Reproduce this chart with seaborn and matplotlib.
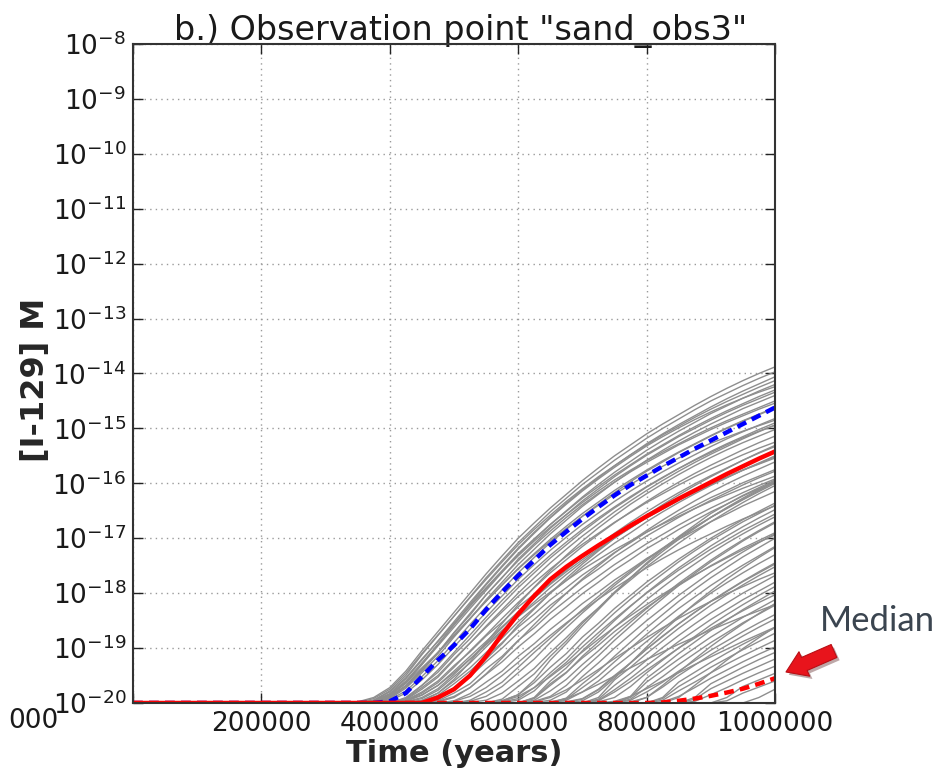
import numpy as np
import pandas as pd
import matplotlib
matplotlib.use("Agg")
import matplotlib.pyplot as plt
import matplotlib.patheffects as pe
from matplotlib.ticker import FixedLocator, NullLocator
import seaborn as sns

# Time axis (years) shared by all simulated runs
time_years = [0, 300000, 325000, 350000, 375000, 400000, 425000, 450000, 475000, 500000,
              525000, 550000, 575000, 600000, 625000, 650000, 675000, 700000, 725000, 750000,
              775000, 800000, 825000, 850000, 875000, 900000, 925000, 950000, 975000, 1000000]

# log10 of [I-129] (M) for each realisation; -20 is the reporting floor
runs_early = [
    [-20, -20, -20, -19.98, -19.9, -19.72, -19.42, -19.05, -18.7, -18.35, -18.0, -17.65, -17.32, -17.0, -16.72,
     -16.45, -16.2, -15.95, -15.72, -15.5, -15.3, -15.1, -14.92, -14.75, -14.58, -14.42, -14.27, -14.13, -14.0, -13.88],
    [-20, -20, -20, -20, -19.95, -19.78, -19.5, -19.12, -18.77, -18.42, -18.07, -17.72, -17.4, -17.08, -16.8,
     -16.52, -16.27, -16.02, -15.8, -15.58, -15.38, -15.18, -15.0, -14.83, -14.66, -14.5, -14.36, -14.22, -14.09, -13.97],
    [-20, -20, -20, -20, -19.95, -19.8, -19.54, -19.2, -18.88, -18.55, -18.22, -17.9, -17.59, -17.28, -17.01,
     -16.75, -16.51, -16.27, -16.06, -15.85, -15.66, -15.47, -15.3, -15.13, -14.97, -14.82, -14.68, -14.55, -14.42, -14.3],
    [-20, -20, -20, -20, -19.96, -19.85, -19.62, -19.3, -18.96, -18.62, -18.28, -17.95, -17.62, -17.3, -17.02,
     -16.75, -16.5, -16.25, -16.02, -15.8, -15.6, -15.4, -15.22, -15.05, -14.89, -14.73, -14.59, -14.45, -14.32, -14.2],
    [-20, -20, -20, -20, -19.97, -19.88, -19.68, -19.38, -19.08, -18.78, -18.46, -18.15, -17.85, -17.55, -17.28,
     -17.02, -16.78, -16.55, -16.34, -16.13, -15.94, -15.76, -15.59, -15.43, -15.28, -15.13, -14.99, -14.86, -14.74, -14.62],
    [-20, -20, -20, -20, -19.98, -19.92, -19.73, -19.45, -19.15, -18.8, -18.47, -18.12, -17.8, -17.48, -17.2,
     -16.92, -16.67, -16.42, -16.2, -15.98, -15.78, -15.58, -15.4, -15.23, -15.07, -14.92, -14.78, -14.64, -14.52, -14.4],
    [-20, -20, -20, -20, -19.99, -19.94, -19.78, -19.52, -19.23, -18.9, -18.57, -18.25, -17.94, -17.63, -17.35,
     -17.08, -16.84, -16.6, -16.38, -16.17, -15.97, -15.78, -15.61, -15.44, -15.29, -15.14, -15.0, -14.87, -14.75, -14.63],
    [-20, -20, -20, -20, -20, -19.96, -19.82, -19.58, -19.3, -18.98, -18.66, -18.35, -18.05, -17.75, -17.48,
     -17.22, -16.98, -16.75, -16.54, -16.33, -16.14, -15.96, -15.79, -15.63, -15.48, -15.33, -15.19, -15.06, -14.94, -14.82],
    [-20, -20, -20, -20, -20, -20, -19.92, -19.68, -19.44, -19.12, -18.83, -18.5, -18.2, -17.9, -17.63,
     -17.36, -17.12, -16.88, -16.66, -16.45, -16.26, -16.07, -15.9, -15.73, -15.57, -15.42, -15.28, -15.15, -15.02, -14.9],
    [-20, -20, -20, -20, -20, -20, -19.93, -19.72, -19.5, -19.2, -18.91, -18.62, -18.34, -18.06, -17.81,
     -17.56, -17.33, -17.11, -16.91, -16.71, -16.53, -16.35, -16.19, -16.03, -15.88, -15.74, -15.61, -15.48, -15.36, -15.25],
    [-20, -20, -20, -20, -20, -20, -19.94, -19.75, -19.53, -19.22, -18.91, -18.6, -18.3, -18.0, -17.72,
     -17.45, -17.2, -16.96, -16.74, -16.52, -16.32, -16.13, -15.95, -15.78, -15.62, -15.47, -15.33, -15.19, -15.06, -14.94],
    [-20, -20, -20, -20, -20, -20, -19.96, -19.82, -19.63, -19.35, -19.05, -18.76, -18.46, -18.17, -17.9,
     -17.63, -17.39, -17.15, -16.93, -16.72, -16.52, -16.33, -16.15, -15.98, -15.82, -15.67, -15.53, -15.39, -15.26, -15.14],
    [-20, -20, -20, -20, -20, -20, -19.96, -19.85, -19.68, -19.42, -19.15, -18.88, -18.61, -18.34, -18.09,
     -17.84, -17.61, -17.39, -17.19, -16.99, -16.81, -16.63, -16.47, -16.31, -16.16, -16.02, -15.89, -15.76, -15.64, -15.52],
    [-20, -20, -20, -20, -20, -20, -19.98, -19.9, -19.74, -19.48, -19.2, -18.92, -18.63, -18.35, -18.08,
     -17.82, -17.58, -17.34, -17.12, -16.91, -16.71, -16.52, -16.34, -16.17, -16.01, -15.86, -15.72, -15.58, -15.45, -15.33],
    [-20, -20, -20, -20, -20, -20, -19.99, -19.95, -19.82, -19.6, -19.36, -19.08, -18.82, -18.52, -18.27,
     -18.0, -17.77, -17.52, -17.3, -17.09, -16.9, -16.7, -16.52, -16.35, -16.19, -16.04, -15.9, -15.76, -15.63, -15.5],
    [-20, -20, -20, -20, -20, -20, -20, -19.97, -19.86, -19.65, -19.42, -19.15, -18.9, -18.62, -18.38,
     -18.12, -17.9, -17.67, -17.47, -17.26, -17.08, -16.89, -16.73, -16.56, -16.41, -16.26, -16.13, -15.99, -15.87, -15.75],
    [-20, -20, -20, -20, -20, -20, -20, -20, -19.93, -19.72, -19.52, -19.25, -19.0, -18.72, -18.48,
     -18.22, -18.0, -17.76, -17.56, -17.34, -17.15, -16.96, -16.79, -16.62, -16.46, -16.31, -16.17, -16.03, -15.9, -15.78],
    [-20, -20, -20, -20, -20, -20, -20, -20, -19.94, -19.75, -19.52, -19.2, -18.92, -18.58, -18.29,
     -18.0, -17.73, -17.47, -17.23, -17.0, -16.79, -16.58, -16.39, -16.21, -16.04, -15.88, -15.73, -15.58, -15.44, -15.31],
    [-20, -20, -20, -20, -20, -20, -20, -20, -19.96, -19.82, -19.65, -19.38, -19.15, -18.86, -18.63,
     -18.36, -18.13, -17.9, -17.69, -17.48, -17.29, -17.1, -16.93, -16.76, -16.6, -16.45, -16.31, -16.17, -16.04, -15.92],
    [-20, -20, -20, -20, -20, -20, -20, -20, -19.97, -19.88, -19.72, -19.48, -19.25, -18.98, -18.74,
     -18.48, -18.25, -18.01, -17.8, -17.58, -17.39, -17.19, -17.02, -16.84, -16.68, -16.52, -16.38, -16.23, -16.1, -15.97],
    [-20, -20, -20, -20, -20, -20, -20, -20, -20, -19.96, -19.83, -19.62, -19.42, -19.15, -18.92,
     -18.66, -18.43, -18.19, -17.98, -17.76, -17.57, -17.37, -17.2, -17.02, -16.86, -16.7, -16.56, -16.41, -16.28, -16.15],
    [-20, -20, -20, -20, -19.98, -19.9, -19.7, -19.4, -19.1, -18.72, -18.4, -18.03, -17.72, -17.38, -17.1,
     -16.82, -16.57, -16.32, -16.1, -15.88, -15.68, -15.49, -15.32, -15.15, -15.0, -14.85, -14.71, -14.58, -14.46, -14.34],
    [-20, -20, -20, -20, -19.97, -19.86, -19.64, -19.36, -19.08, -18.76, -18.46, -18.14, -17.85, -17.56, -17.3,
     -17.05, -16.82, -16.6, -16.4, -16.2, -16.02, -15.85, -15.69, -15.54, -15.4, -15.27, -15.16, -15.05, -14.95, -14.85],
    [-20, -20, -20, -20, -20, -20, -19.95, -19.8, -19.6, -19.32, -19.07, -18.78, -18.53, -18.25, -18.02,
     -17.77, -17.56, -17.34, -17.15, -16.95, -16.78, -16.6, -16.45, -16.29, -16.15, -16.01, -15.89, -15.76, -15.65, -15.54],
    [-20, -20, -20, -20, -20, -20, -19.98, -19.92, -19.77, -19.52, -19.27, -18.98, -18.7, -18.42, -18.16,
     -17.9, -17.66, -17.43, -17.21, -17.0, -16.81, -16.62, -16.45, -16.28, -16.12, -15.97, -15.83, -15.69, -15.56, -15.44],
    [-20, -20, -20, -19.99, -19.92, -19.75, -19.46, -19.1, -18.76, -18.42, -18.08, -17.75, -17.43, -17.12, -16.84,
     -16.58, -16.33, -16.1, -15.88, -15.68, -15.48, -15.3, -15.12, -14.96, -14.8, -14.65, -14.51, -14.38, -14.25, -14.13],
    [-20, -20, -20, -20, -19.96, -19.83, -19.56, -19.22, -18.87, -18.52, -18.17, -17.83, -17.5, -17.18, -16.89,
     -16.62, -16.36, -16.12, -15.9, -15.68, -15.48, -15.28, -15.1, -14.93, -14.77, -14.61, -14.46, -14.32, -14.19, -14.06],
    [-20, -20, -20, -20, -19.96, -19.84, -19.6, -19.27, -18.93, -18.58, -18.24, -17.92, -17.61, -17.32, -17.05,
     -16.8, -16.57, -16.35, -16.14, -15.94, -15.76, -15.59, -15.43, -15.28, -15.13, -14.99, -14.86, -14.74, -14.62, -14.5],
    [-20, -20, -20, -20, -20, -19.9, -19.7, -19.42, -19.08, -18.72, -18.37, -18.03, -17.71, -17.41, -17.13,
     -16.87, -16.62, -16.39, -16.18, -15.98, -15.79, -15.62, -15.46, -15.3, -15.16, -15.02, -14.89, -14.77, -14.65, -14.54],
    [-20, -20, -20, -20, -20, -20, -19.9, -19.68, -19.4, -19.08, -18.76, -18.44, -18.13, -17.84, -17.57,
     -17.31, -17.07, -16.84, -16.63, -16.43, -16.24, -16.06, -15.89, -15.73, -15.58, -15.44, -15.3, -15.17, -15.05, -14.94],
    [-20, -20, -20, -20, -20, -20, -19.97, -19.86, -19.68, -19.45, -19.2, -18.94, -18.68, -18.43, -18.2,
     -17.98, -17.77, -17.57, -17.39, -17.21, -17.05, -16.89, -16.74, -16.6, -16.46, -16.33, -16.21, -16.09, -15.98, -15.87],
    [-20, -20, -20, -20, -20, -20, -20, -19.96, -19.82, -19.57, -19.25, -18.9, -18.55, -18.21, -17.89,
     -17.59, -17.31, -17.05, -16.81, -16.59, -16.38, -16.19, -16.01, -15.84, -15.68, -15.53, -15.39, -15.26, -15.14, -15.02],
    [-20, -20, -20, -20, -20, -20, -20, -20, -19.98, -19.9, -19.72, -19.47, -19.18, -18.87, -18.57,
     -18.28, -18.0, -17.74, -17.5, -17.27, -17.06, -16.86, -16.67, -16.49, -16.32, -16.16, -16.01, -15.87, -15.74, -15.61],
    [-20, -20, -20, -20, -20, -20, -20, -20, -20, -19.97, -19.88, -19.72, -19.5, -19.26, -19.01,
     -18.77, -18.54, -18.32, -18.11, -17.91, -17.72, -17.54, -17.37, -17.21, -17.06, -16.92, -16.78, -16.65, -16.53, -16.41],
    [-20, -20, -20, -20, -19.97, -19.87, -19.64, -19.3, -18.94, -18.57, -18.2, -17.85, -17.52, -17.2, -16.91,
     -16.63, -16.38, -16.14, -15.92, -15.71, -15.51, -15.32, -15.15, -14.99, -14.84, -14.7, -14.57, -14.45, -14.34, -14.24],
]

runs_middle = [
    [-20, -20, -20, -20, -20, -20, -20, -20, -20, -20, -19.95, -19.8, -19.62, -19.35, -19.08,
     -18.82, -18.56, -18.3, -18.06, -17.82, -17.6, -17.38, -17.18, -16.98, -16.8, -16.62, -16.46, -16.3, -16.15, -16.0],
    [-20, -20, -20, -20, -20, -20, -20, -20, -20, -20, -19.97, -19.88, -19.7, -19.45, -19.2,
     -18.9, -18.63, -18.36, -18.11, -17.86, -17.63, -17.4, -17.19, -16.99, -16.8, -16.62, -16.45, -16.29, -16.13, -15.98],
    [-20, -20, -20, -20, -20, -20, -20, -20, -20, -20, -19.99, -19.95, -19.82, -19.6, -19.37,
     -19.08, -18.81, -18.52, -18.27, -18.0, -17.76, -17.52, -17.3, -17.09, -16.89, -16.7, -16.52, -16.35, -16.19, -16.04],
    [-20, -20, -20, -20, -20, -20, -20, -20, -20, -20, -20, -20, -19.93, -19.7, -19.47,
     -19.15, -18.87, -18.55, -18.27, -17.98, -17.72, -17.47, -17.24, -17.02, -16.82, -16.62, -16.44, -16.27, -16.11, -15.96],
    [-20, -20, -20, -20, -20, -20, -20, -20, -20, -20, -20, -20, -19.96, -19.85, -19.58,
     -19.22, -18.92, -18.6, -18.3, -18.0, -17.72, -17.45, -17.2, -16.97, -16.76, -16.55, -16.38, -16.22, -16.08, -15.94],
    [-20, -20, -20, -20, -20, -20, -20, -20, -20, -20, -20, -20, -19.96, -19.85, -19.63,
     -19.35, -19.1, -18.8, -18.55, -18.28, -18.04, -17.8, -17.59, -17.38, -17.19, -17.0, -16.83, -16.66, -16.51, -16.36],
    [-20, -20, -20, -20, -20, -20, -20, -20, -20, -20, -20, -20, -19.98, -19.92, -19.72,
     -19.45, -19.2, -18.9, -18.63, -18.36, -18.11, -17.87, -17.65, -17.43, -17.23, -17.04, -16.87, -16.7, -16.55, -16.4],
    [-20, -20, -20, -20, -20, -20, -20, -20, -20, -20, -20, -20, -19.99, -19.95, -19.78,
     -19.5, -19.26, -18.98, -18.72, -18.47, -18.23, -18.0, -17.79, -17.58, -17.39, -17.2, -17.03, -16.86, -16.71, -16.56],
    [-20, -20, -20, -20, -20, -20, -20, -20, -20, -20, -20, -20, -19.97, -19.88, -19.72,
     -19.52, -19.3, -19.07, -18.84, -18.62, -18.41, -18.21, -18.02, -17.84, -17.67, -17.51, -17.36, -17.21, -17.07, -16.94],
    [-20, -20, -20, -20, -20, -20, -20, -20, -20, -20, -20, -20, -20, -20, -19.9,
     -19.6, -19.36, -19.05, -18.78, -18.5, -18.24, -17.99, -17.76, -17.54, -17.34, -17.14, -16.96, -16.79, -16.63, -16.48],
    [-20, -20, -20, -20, -20, -20, -20, -20, -20, -20, -20, -20, -20, -20, -19.92,
     -19.68, -19.45, -19.15, -18.89, -18.62, -18.37, -18.12, -17.89, -17.67, -17.47, -17.27, -17.09, -16.92, -16.76, -16.61],
    [-20, -20, -20, -20, -20, -20, -20, -20, -20, -20, -20, -20, -20, -20, -19.95,
     -19.78, -19.57, -19.3, -19.05, -18.78, -18.53, -18.28, -18.05, -17.82, -17.61, -17.4, -17.21, -17.03, -16.86, -16.7],
    [-20, -20, -20, -20, -20, -20, -20, -20, -20, -20, -20, -20, -20, -20, -19.97,
     -19.88, -19.68, -19.4, -19.14, -18.86, -18.6, -18.34, -18.1, -17.86, -17.64, -17.43, -17.24, -17.05, -16.88, -16.72],
    [-20, -20, -20, -20, -20, -20, -20, -20, -20, -20, -20, -20, -20, -20, -19.99,
     -19.95, -19.8, -19.52, -19.27, -19.0, -18.75, -18.5, -18.27, -18.04, -17.83, -17.62, -17.43, -17.25, -17.08, -16.92],
    [-20, -20, -20, -20, -20, -20, -20, -20, -20, -20, -20, -20, -20, -20, -19.91,
     -19.65, -19.44, -19.18, -18.95, -18.7, -18.48, -18.26, -18.06, -17.86, -17.68, -17.5, -17.34, -17.18, -17.04, -16.9],
    [-20, -20, -20, -20, -20, -20, -20, -20, -20, -20, -20, -20, -20, -20, -19.98,
     -19.9, -19.76, -19.58, -19.39, -19.19, -19.0, -18.81, -18.63, -18.46, -18.3, -18.15, -18.01, -17.88, -17.75, -17.63],
    [-20, -20, -20, -20, -20, -20, -20, -20, -20, -20, -20, -20, -20, -20, -20,
     -19.98, -19.92, -19.8, -19.66, -19.51, -19.36, -19.21, -19.07, -18.93, -18.8, -18.67, -18.55, -18.43, -18.32, -18.21],
    [-20, -20, -20, -20, -20, -20, -20, -20, -20, -20, -20, -20, -20, -20, -20,
     -20, -19.91, -19.65, -19.42, -19.15, -18.89, -18.63, -18.39, -18.15, -17.93, -17.72, -17.53, -17.34, -17.17, -17.0],
    [-20, -20, -20, -20, -20, -20, -20, -20, -20, -20, -20, -20, -20, -20, -20,
     -20, -19.93, -19.72, -19.51, -19.25, -19.0, -18.75, -18.51, -18.28, -18.07, -17.86, -17.67, -17.49, -17.32, -17.15],
    [-20, -20, -20, -20, -20, -20, -20, -20, -20, -20, -20, -20, -20, -20, -20,
     -20, -19.95, -19.8, -19.6, -19.35, -19.12, -18.88, -18.65, -18.42, -18.21, -18.0, -17.81, -17.63, -17.46, -17.3],
    [-20, -20, -20, -20, -20, -20, -20, -20, -20, -20, -20, -20, -20, -20, -20,
     -20, -19.98, -19.92, -19.75, -19.5, -19.27, -19.02, -18.79, -18.56, -18.35, -18.15, -17.97, -17.79, -17.63, -17.47],
    [-20, -20, -20, -20, -20, -20, -20, -20, -20, -20, -20, -20, -20, -20, -20,
     -20, -19.99, -19.93, -19.76, -19.52, -19.27, -19.02, -18.78, -18.56, -18.35, -18.15, -17.96, -17.78, -17.61, -17.45],
    [-20, -20, -20, -20, -20, -20, -20, -20, -20, -20, -20, -20, -20, -20, -20,
     -20, -20, -19.96, -19.8, -19.55, -19.27, -18.98, -18.7, -18.44, -18.19, -17.96, -17.74, -17.54, -17.35, -17.17],
]

runs_late = [
    [-20, -20, -20, -20, -20, -20, -20, -20, -20, -20, -20, -20, -20, -20, -20,
     -20, -20, -20, -19.9, -19.58, -19.35, -19.1, -18.87, -18.64, -18.43, -18.22, -18.03, -17.85, -17.68, -17.52],
    [-20, -20, -20, -20, -20, -20, -20, -20, -20, -20, -20, -20, -20, -20, -20,
     -20, -20, -20, -19.93, -19.68, -19.46, -19.22, -18.99, -18.77, -18.56, -18.36, -18.18, -18.0, -17.84, -17.68],
    [-20, -20, -20, -20, -20, -20, -20, -20, -20, -20, -20, -20, -20, -20, -20,
     -20, -20, -20, -19.95, -19.76, -19.55, -19.32, -19.1, -18.88, -18.68, -18.48, -18.3, -18.12, -17.96, -17.8],
    [-20, -20, -20, -20, -20, -20, -20, -20, -20, -20, -20, -20, -20, -20, -20,
     -20, -20, -20, -19.98, -19.9, -19.7, -19.45, -19.22, -19.0, -18.79, -18.58, -18.39, -18.21, -18.04, -17.88],
    [-20, -20, -20, -20, -20, -20, -20, -20, -20, -20, -20, -20, -20, -20, -20,
     -20, -20, -20, -19.96, -19.8, -19.61, -19.4, -19.2, -19.0, -18.82, -18.64, -18.48, -18.32, -18.17, -18.03],
    [-20, -20, -20, -20, -20, -20, -20, -20, -20, -20, -20, -20, -20, -20, -20,
     -20, -20, -20, -20, -19.97, -19.88, -19.74, -19.6, -19.45, -19.3, -19.16, -19.02, -18.88, -18.75, -18.62],
    [-20, -20, -20, -20, -20, -20, -20, -20, -20, -20, -20, -20, -20, -20, -20,
     -20, -20, -20, -20, -20, -19.88, -19.55, -19.33, -19.1, -18.89, -18.68, -18.49, -18.3, -18.13, -17.96],
    [-20, -20, -20, -20, -20, -20, -20, -20, -20, -20, -20, -20, -20, -20, -20,
     -20, -20, -20, -20, -20, -19.9, -19.62, -19.41, -19.2, -19.0, -18.8, -18.62, -18.44, -18.28, -18.12],
    [-20, -20, -20, -20, -20, -20, -20, -20, -20, -20, -20, -20, -20, -20, -20,
     -20, -20, -20, -20, -20, -19.93, -19.72, -19.52, -19.3, -19.1, -18.9, -18.72, -18.54, -18.38, -18.22],
    [-20, -20, -20, -20, -20, -20, -20, -20, -20, -20, -20, -20, -20, -20, -20,
     -20, -20, -20, -20, -20, -19.95, -19.8, -19.62, -19.42, -19.23, -19.04, -18.87, -18.7, -18.54, -18.39],
    [-20, -20, -20, -20, -20, -20, -20, -20, -20, -20, -20, -20, -20, -20, -20,
     -20, -20, -20, -20, -20, -19.98, -19.9, -19.71, -19.5, -19.31, -19.12, -18.95, -18.78, -18.62, -18.47],
    [-20, -20, -20, -20, -20, -20, -20, -20, -20, -20, -20, -20, -20, -20, -20,
     -20, -20, -20, -20, -20, -20, -19.9, -19.68, -19.44, -19.2, -18.97, -18.76, -18.56, -18.37, -18.19],
    [-20, -20, -20, -20, -20, -20, -20, -20, -20, -20, -20, -20, -20, -20, -20,
     -20, -20, -20, -20, -20, -20, -20, -19.9, -19.62, -19.44, -19.26, -19.09, -18.93, -18.78, -18.63],
    [-20, -20, -20, -20, -20, -20, -20, -20, -20, -20, -20, -20, -20, -20, -20,
     -20, -20, -20, -20, -20, -20, -20, -19.92, -19.7, -19.53, -19.35, -19.19, -19.03, -18.88, -18.73],
    [-20, -20, -20, -20, -20, -20, -20, -20, -20, -20, -20, -20, -20, -20, -20,
     -20, -20, -20, -20, -20, -20, -20, -19.95, -19.78, -19.62, -19.45, -19.29, -19.14, -19.0, -18.86],
    [-20, -20, -20, -20, -20, -20, -20, -20, -20, -20, -20, -20, -20, -20, -20,
     -20, -20, -20, -20, -20, -20, -20, -19.98, -19.88, -19.72, -19.55, -19.4, -19.25, -19.11, -18.98],
    [-20, -20, -20, -20, -20, -20, -20, -20, -20, -20, -20, -20, -20, -20, -20,
     -20, -20, -20, -20, -20, -20, -20, -20, -19.9, -19.68, -19.45, -19.22, -19.01, -18.81, -18.62],
    [-20, -20, -20, -20, -20, -20, -20, -20, -20, -20, -20, -20, -20, -20, -20,
     -20, -20, -20, -20, -20, -20, -20, -20, -20, -19.9, -19.65, -19.5, -19.35, -19.21, -19.08],
    [-20, -20, -20, -20, -20, -20, -20, -20, -20, -20, -20, -20, -20, -20, -20,
     -20, -20, -20, -20, -20, -20, -20, -20, -20, -19.93, -19.74, -19.6, -19.46, -19.33, -19.2],
    [-20, -20, -20, -20, -20, -20, -20, -20, -20, -20, -20, -20, -20, -20, -20,
     -20, -20, -20, -20, -20, -20, -20, -20, -20, -19.97, -19.85, -19.72, -19.58, -19.45, -19.33],
    [-20, -20, -20, -20, -20, -20, -20, -20, -20, -20, -20, -20, -20, -20, -20,
     -20, -20, -20, -20, -20, -20, -20, -20, -20, -20, -20, -19.9, -19.7, -19.58, -19.46],
    [-20, -20, -20, -20, -20, -20, -20, -20, -20, -20, -20, -20, -20, -20, -20,
     -20, -20, -20, -20, -20, -20, -20, -20, -20, -20, -20, -19.96, -19.82, -19.71, -19.6],
    [-20, -20, -20, -20, -20, -20, -20, -20, -20, -20, -20, -20, -20, -20, -20,
     -20, -20, -20, -20, -20, -20, -20, -20, -20, -20, -20, -20, -20, -19.9, -19.75],
]

# Summary curves (log10 M)
mean_log = [-20, -20, -20, -20, -20, -19.97, -19.82, -19.52, -19.22, -18.95, -18.65, -18.3, -17.98, -17.68, -17.4,
            -17.12, -16.88, -16.65, -16.43, -16.22, -16.03, -15.86, -15.69, -15.53, -15.37, -15.22, -15.07, -14.92, -14.77, -14.62]
geo_mean_log = [-20, -20, -20, -20, -20, -20, -20, -20, -19.9, -19.75, -19.5, -19.15, -18.75, -18.38, -18.05,
                -17.75, -17.52, -17.32, -17.13, -16.95, -16.77, -16.6, -16.44, -16.28, -16.13, -15.98, -15.83, -15.69, -15.55, -15.42]
median_log = [-20, -20, -20, -20, -20, -20, -20, -20, -20, -20, -20, -20, -20, -20, -20,
              -20, -20, -20, -20, -20, -20, -20, -19.99, -19.96, -19.92, -19.87, -19.81, -19.74, -19.65, -19.55]

y_decades = list(range(-20, -7))
x_ticks = [0, 200000, 400000, 600000, 800000, 1000000]
x_tick_labels = ["", "200000", "400000", "600000", "800000", "1000000"]

all_runs = runs_early + runs_middle + runs_late
for row in all_runs + [mean_log, geo_mean_log, median_log]:
    assert len(row) == len(time_years), len(row)

records = []
for run_id, row in enumerate(all_runs):
    for t, v in zip(time_years, row):
        records.append({"run": run_id, "time": t, "conc": 10.0 ** v})
runs_df = pd.DataFrame(records)

sns.set_style("ticks")
plt.rcParams["font.family"] = "DejaVu Sans"
plt.rcParams["mathtext.fontset"] = "dejavusans"
plt.rcParams["axes.unicode_minus"] = False

fig = plt.figure(figsize=(9.38, 7.72), dpi=100)
ax = fig.add_axes([0.1418, 0.0894, 0.6844, 0.8536])

sns.lineplot(data=runs_df, x="time", y="conc", units="run", estimator=None,
             color="#8e8e8e", linewidth=1.0, ax=ax, legend=False, zorder=2)

t_arr = np.array(time_years)
sns.lineplot(x=t_arr, y=10.0 ** np.array(mean_log), color="#0000ff", linewidth=3.2,
             linestyle=(0, (2.2, 1.4)), ax=ax, zorder=4)
sns.lineplot(x=t_arr, y=10.0 ** np.array(geo_mean_log), color="#ff0000", linewidth=3.2,
             ax=ax, zorder=5)
sns.lineplot(x=t_arr, y=10.0 ** np.array(median_log), color="#ff0000", linewidth=3.2,
             linestyle=(0, (2.2, 1.4)), ax=ax, zorder=5)

ax.set_yscale("log")
ax.set_xlim(0, 1000000)
ax.set_ylim(1e-20, 1e-8)
ax.yaxis.set_major_locator(FixedLocator([10.0 ** d for d in y_decades]))
ax.yaxis.set_minor_locator(NullLocator())
ax.set_xticks(x_ticks)
ax.set_xticklabels(x_tick_labels)

ax.grid(True, which="major", linestyle=(0, (1, 3)), color="#9a9a9a", linewidth=1.0, zorder=0)
ax.set_axisbelow(True)
ax.tick_params(axis="both", which="major", direction="in", top=True, right=True,
               length=7, width=1.0, colors="#222222", labelsize=19, labelcolor="#1a1a1a")
ax.tick_params(axis="y", pad=5)
ax.tick_params(axis="x", pad=6)
for sp in ax.spines.values():
    sp.set_color("#333333")
    sp.set_linewidth(1.5)
    sp.set_zorder(6)

ax.set_title('b.) Observation point "sand_obs3"', fontsize=24, pad=3, color="#1a1a1a", x=0.511)
ax.set_xlabel("Time (years)", fontsize=22, fontweight="bold", labelpad=1)
ax.set_ylabel("[I-129] M", fontsize=23, fontweight="bold")
ax.yaxis.set_label_coords(-0.128, 0.49)

fig.text(58 / 938, 1 - 721 / 772, "000", fontsize=19, va="center", ha="right", color="#1a1a1a")

fig.text(820 / 938, 1 - 621 / 772, "Median", fontsize=25, va="center", ha="left",
         color="#3b4550", family="Lato")
ax.annotate("", xy=(786, 100), xytext=(834, 121),
            xycoords="figure pixels", textcoords="figure pixels",
            annotation_clip=False,
            arrowprops=dict(arrowstyle="simple,head_width=1.6,head_length=1.2,tail_width=0.85",
                            mutation_scale=12, fc="#e8141c", ec="#b80f15", lw=0.8,
                            shrinkA=0, shrinkB=0,
                            path_effects=[pe.SimplePatchShadow(offset=(2, -2), alpha=0.35),
                                          pe.Normal()]))

fig.savefig("out.png", dpi=100)
